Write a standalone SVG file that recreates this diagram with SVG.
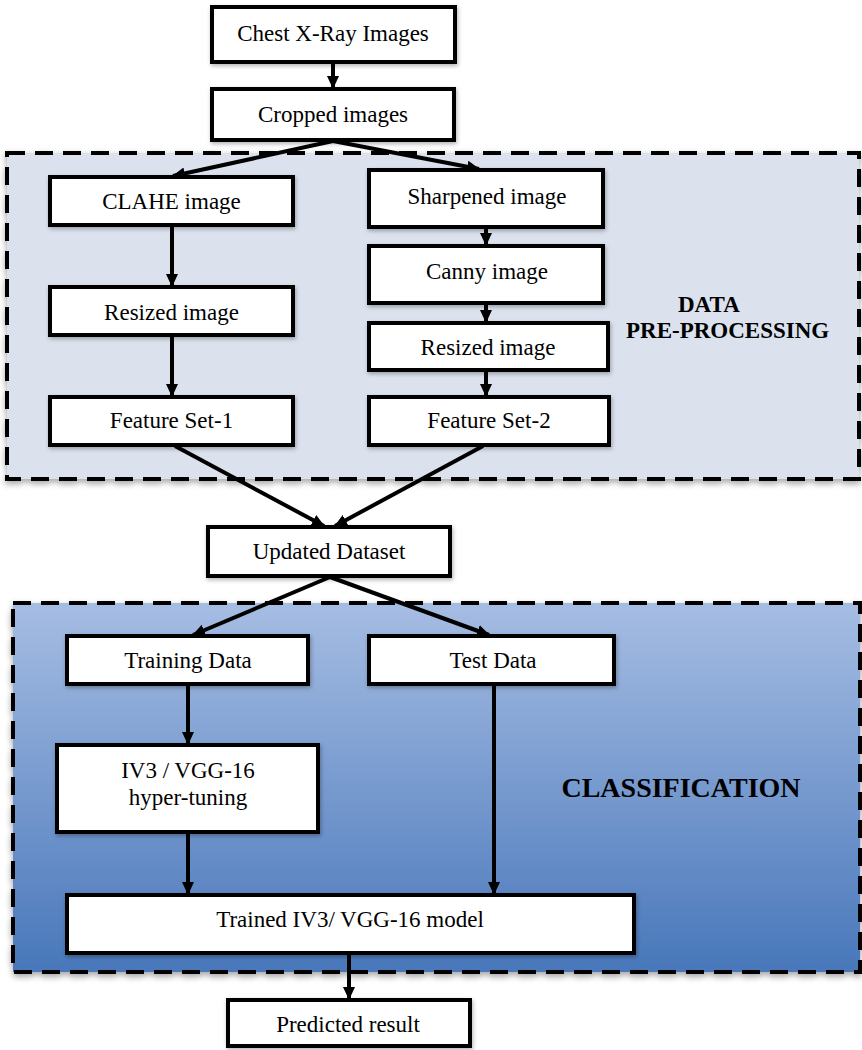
<svg xmlns="http://www.w3.org/2000/svg" width="862" height="1050" viewBox="0 0 862 1050">
<style>
.box{fill:#ffffff;stroke:#000000;stroke-width:4;filter:url(#sh)}
.lbl{font-family:"Liberation Serif","Times New Roman",serif;font-size:23px;fill:#000000;text-anchor:middle}
.region{stroke:#000000;stroke-width:4;stroke-dasharray:18 10;filter:url(#sh2)}
.title{font-family:"Liberation Serif","Times New Roman",serif;font-weight:bold;fill:#000000}
.conn{stroke:#000000;stroke-width:4;fill:none;marker-end:url(#ah)}
</style>
<defs>
<linearGradient id="blue" x1="0" y1="0" x2="0" y2="1">
<stop offset="0" stop-color="#a6bde3"/>
<stop offset="1" stop-color="#4877ba"/>
</linearGradient>
<filter id="sh" x="-10%" y="-10%" width="130%" height="140%">
<feDropShadow dx="1" dy="2" stdDeviation="2" flood-color="#000000" flood-opacity="0.3"/>
</filter>
<filter id="sh2" x="-5%" y="-5%" width="110%" height="115%">
<feDropShadow dx="0" dy="3" stdDeviation="3" flood-color="#000000" flood-opacity="0.35"/>
</filter>
<marker id="ah" markerUnits="userSpaceOnUse" markerWidth="14" markerHeight="14" viewBox="0 0 14 14" refX="12" refY="7" orient="auto">
<path d="M0,1 L13,7 L0,13 Z" fill="#000000"/>
</marker>
</defs>

<g id="region-preprocessing">
<rect class="region" x="7" y="153" width="852" height="326" fill="#dbe2ee"/>
<text class="title" x="678" y="312" font-size="23">DATA</text>
<text class="title" x="626" y="338" font-size="23">PRE-PROCESSING</text>
</g>
<g id="region-classification">
<rect class="region" x="13" y="603" width="847" height="369" fill="url(#blue)"/>
<text class="title" x="681" y="797" font-size="28" text-anchor="middle">CLASSIFICATION</text>
</g>

<g id="connectors">
<line class="conn" x1="333" y1="63" x2="333" y2="88"/>
<line class="conn" x1="333" y1="141" x2="173" y2="176"/>
<line class="conn" x1="333" y1="141" x2="479" y2="169"/>
<line class="conn" x1="172" y1="226" x2="172" y2="286"/>
<line class="conn" x1="172" y1="336" x2="172" y2="396"/>
<line class="conn" x1="486" y1="228" x2="486" y2="245"/>
<line class="conn" x1="486" y1="304" x2="486" y2="322"/>
<line class="conn" x1="486" y1="371" x2="486" y2="396"/>
<line class="conn" x1="175" y1="446" x2="324" y2="526"/>
<line class="conn" x1="483" y1="446" x2="335" y2="526"/>
<line class="conn" x1="330" y1="577" x2="193" y2="635"/>
<line class="conn" x1="330" y1="577" x2="489" y2="635"/>
<line class="conn" x1="188" y1="685" x2="188" y2="744"/>
<line class="conn" x1="188" y1="833" x2="188" y2="894"/>
<line class="conn" x1="494" y1="685" x2="494" y2="894"/>
<line class="conn" x1="349" y1="954" x2="349" y2="999"/>
</g>

<g id="n-chest">
<rect class="box" x="212" y="7" width="243" height="55"/>
<text class="lbl" x="333" y="41">Chest X-Ray Images</text>
</g>
<g id="n-cropped">
<rect class="box" x="212" y="89" width="242" height="51"/>
<text class="lbl" x="333" y="122">Cropped images</text>
</g>
<g id="n-clahe">
<rect class="box" x="50" y="177" width="243" height="48"/>
<text class="lbl" x="171.5" y="209">CLAHE image</text>
</g>
<g id="n-resized1">
<rect class="box" x="50" y="287" width="243" height="48"/>
<text class="lbl" x="171.5" y="320">Resized image</text>
</g>
<g id="n-feature1">
<rect class="box" x="50" y="397" width="243" height="48"/>
<text class="lbl" x="171.5" y="428">Feature Set-1</text>
</g>
<g id="n-sharpened">
<rect class="box" x="369" y="170" width="234" height="57"/>
<text class="lbl" x="487" y="204">Sharpened image</text>
</g>
<g id="n-canny">
<rect class="box" x="369" y="246" width="234" height="57"/>
<text class="lbl" x="487" y="279">Canny image</text>
</g>
<g id="n-resized2">
<rect class="box" x="369" y="323" width="239" height="47"/>
<text class="lbl" x="488" y="355">Resized image</text>
</g>
<g id="n-feature2">
<rect class="box" x="369" y="397" width="240" height="48"/>
<text class="lbl" x="489" y="428">Feature Set-2</text>
</g>
<g id="n-updated">
<rect class="box" x="208" y="527" width="242" height="49"/>
<text class="lbl" x="329" y="559">Updated Dataset</text>
</g>
<g id="n-training">
<rect class="box" x="67" y="636" width="241" height="48"/>
<text class="lbl" x="188" y="668">Training Data</text>
</g>
<g id="n-test">
<rect class="box" x="369" y="636" width="245" height="48"/>
<text class="lbl" x="493" y="668">Test Data</text>
</g>
<g id="n-iv3">
<rect class="box" x="57" y="745" width="261" height="87"/>
<text class="lbl" x="188" y="778">IV3 / VGG-16</text>
<text class="lbl" x="188" y="805">hyper-tuning</text>
</g>
<g id="n-trained">
<rect class="box" x="67" y="895" width="567" height="58"/>
<text class="lbl" x="350" y="927" font-size="24">Trained IV3/ VGG-16 model</text>
</g>
<g id="n-predicted">
<rect class="box" x="228" y="1000" width="242" height="46"/>
<text class="lbl" x="348" y="1032">Predicted result</text>
</g>
</svg>
